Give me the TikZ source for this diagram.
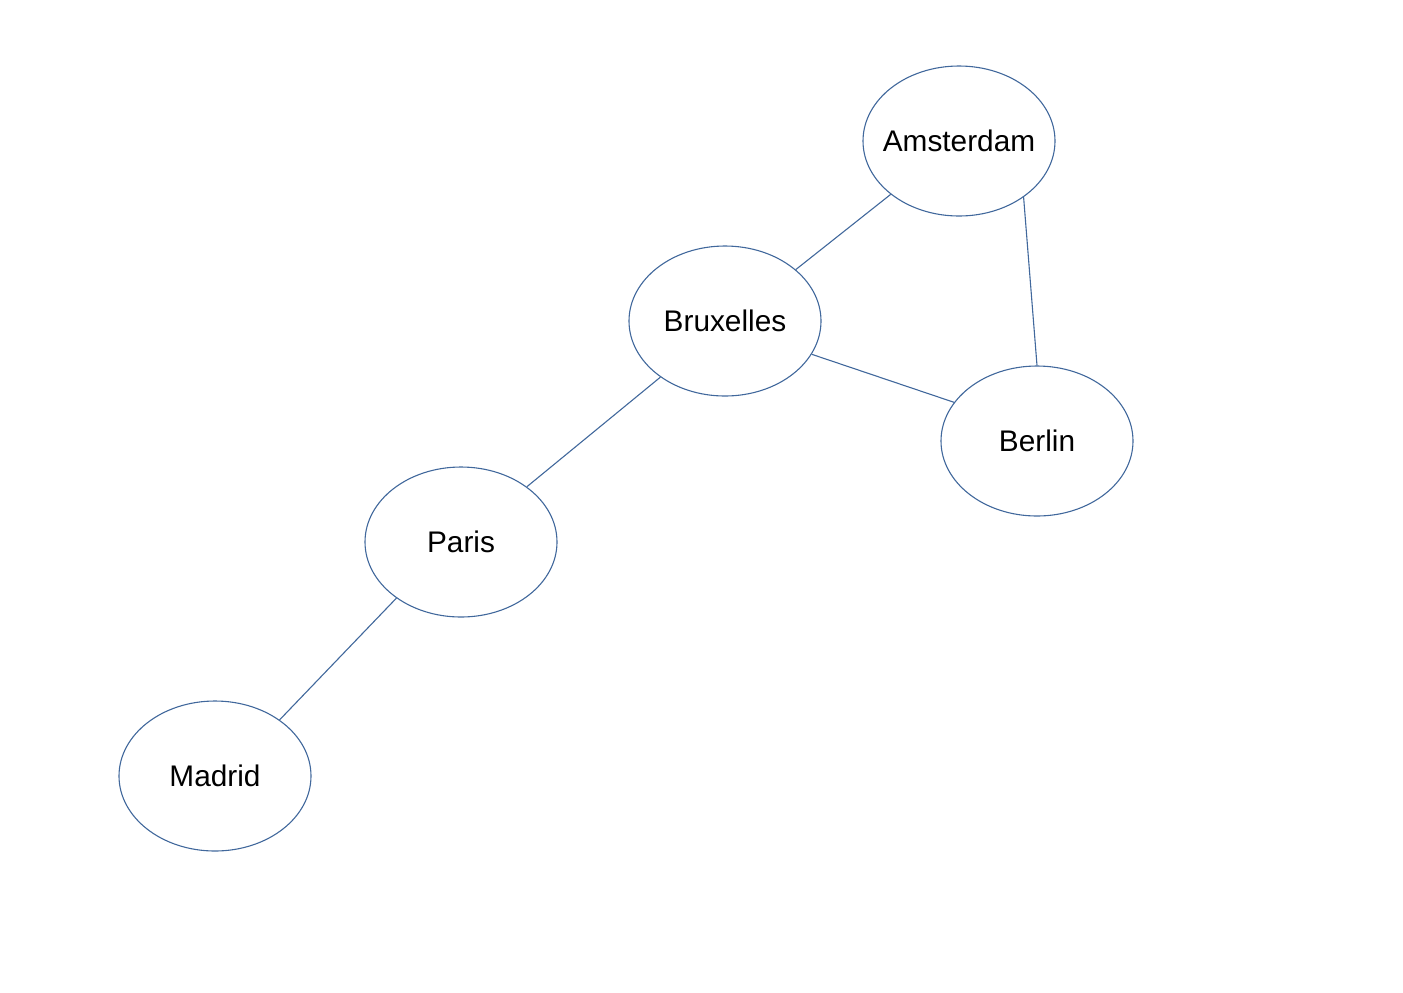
\documentclass[tikz,border=0pt]{standalone}
\usepackage{fontspec}
\setmainfont{Liberation Sans}
\usepackage{tikz}
\usetikzlibrary{shapes.geometric}
\definecolor{Edge}{HTML}{41689C}
\tikzset{
  city/.style={draw=Edge, ellipse, line width=0.55pt, fill=white, minimum width=96pt, minimum height=75pt, inner xsep=-10pt, inner ysep=0pt, font=\fontsize{14.9pt}{18pt}\selectfont},
  road/.style={draw=Edge, line width=0.55pt}
}
\begin{document}
\begin{tikzpicture}[x=0.5pt, y=-0.5pt]
  \useasboundingbox (0,0) rectangle (1403,992);

  \node[city] (amsterdam) at (959,141) {Amsterdam};
  \node[city] (bruxelles) at (725,321) {Bruxelles};
  \node[city] (berlin) at (1037,441) {Berlin};
  \node[city] (paris) at (461,542) {Paris};
  \node[city] (madrid) at (215,776) {Madrid};

  \draw[road] (amsterdam.218) -- (bruxelles.36);
  \draw[road] (amsterdam.-41) -- (berlin.north);
  \draw[road] (bruxelles.-21) -- (berlin.155);
  \draw[road] (bruxelles.221) -- (paris.40);
  \draw[road] (paris.221) -- (madrid.41);
\end{tikzpicture}
\end{document}
